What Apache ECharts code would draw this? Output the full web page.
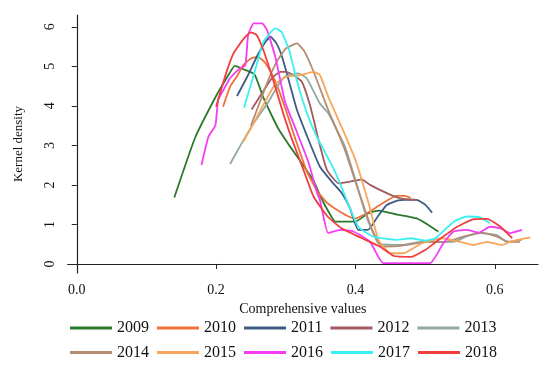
<!DOCTYPE html>
<html>
<head>
<meta charset="utf-8">
<script src="https://cdn.jsdelivr.net/npm/echarts@6/dist/echarts.min.js"></script>
<style>html,body{margin:0;padding:0;background:#fff}#c{width:550px;height:371px}</style>
</head>
<body>
<div id="c"></div>
<script>
const years = ['2009','2010','2011','2012','2013','2014','2015','2016','2017','2018'];
const colors = ['#2b7a2b','#f0703a','#3d5c84','#a35a5e','#8fa9a2','#b48c74','#f7a55a','#f53cf5','#3cf0f0','#f03e3e'];
const xTicks = [0, 0.2, 0.4, 0.6];
const yTicks = [0, 1, 2, 3, 4, 5, 6];

const d2009 = [[0.14,1.68],[0.17,3.2],[0.2,4.25],[0.215,4.7],[0.227,5.01],[0.24,4.92],[0.255,4.8],[0.268,4.2],[0.28,3.75],[0.29,3.4],[0.305,3.0],[0.321,2.6],[0.34,2.1],[0.35,1.7],[0.362,1.3],[0.371,1.07],[0.4,1.07],[0.418,1.28],[0.433,1.35],[0.46,1.25],[0.488,1.15],[0.505,0.98],[0.519,0.82]];
const d2010 = [[0.21,3.98],[0.22,4.48],[0.23,4.75],[0.239,5.03],[0.25,5.2],[0.26,5.24],[0.27,5.1],[0.28,4.8],[0.29,4.4],[0.30,3.9],[0.315,3.1],[0.33,2.35],[0.345,1.85],[0.359,1.55],[0.375,1.35],[0.39,1.2],[0.4,1.15],[0.42,1.32],[0.435,1.49],[0.459,1.72],[0.471,1.72],[0.479,1.67]];
const d2011 = [[0.23,4.25],[0.245,4.75],[0.26,5.3],[0.27,5.6],[0.278,5.75],[0.286,5.6],[0.294,5.28],[0.305,4.6],[0.316,3.9],[0.33,3.26],[0.349,2.46],[0.368,2.04],[0.38,1.8],[0.392,1.42],[0.404,0.86],[0.418,0.86],[0.432,1.2],[0.445,1.49],[0.46,1.6],[0.471,1.62],[0.488,1.62],[0.5,1.5],[0.51,1.3]];
const d2012 = [[0.251,3.91],[0.265,4.3],[0.28,4.7],[0.292,4.86],[0.3,4.86],[0.31,4.78],[0.323,4.61],[0.335,4.0],[0.347,3.14],[0.359,2.38],[0.376,2.04],[0.392,2.08],[0.409,2.14],[0.421,2.0],[0.445,1.79],[0.464,1.66],[0.488,1.62]];
const d2013 = [[0.22,2.53],[0.235,3.0],[0.254,3.56],[0.275,4.1],[0.29,4.55],[0.299,4.74],[0.318,4.82],[0.33,4.7],[0.349,4.06],[0.361,3.81],[0.373,3.4],[0.385,2.97],[0.4,2.12],[0.414,1.29],[0.425,0.8],[0.433,0.52],[0.45,0.48],[0.467,0.48],[0.493,0.56],[0.541,0.56],[0.56,0.7],[0.579,0.78],[0.603,0.73],[0.617,0.56],[0.639,0.61]];
const d2014 = [[0.25,3.5],[0.265,4.2],[0.276,4.7],[0.287,5.12],[0.3,5.45],[0.316,5.58],[0.326,5.4],[0.337,4.99],[0.349,4.45],[0.361,3.89],[0.373,3.4],[0.385,2.88],[0.404,1.87],[0.424,0.86],[0.438,0.44],[0.46,0.45],[0.5,0.55],[0.53,0.56],[0.555,0.69],[0.581,0.79],[0.603,0.69],[0.62,0.56],[0.636,0.56]];
const d2015 = [[0.239,3.09],[0.255,3.6],[0.27,4.1],[0.285,4.55],[0.301,4.74],[0.321,4.78],[0.34,4.86],[0.349,4.78],[0.361,4.23],[0.38,3.47],[0.4,2.63],[0.419,1.53],[0.433,0.61],[0.45,0.27],[0.469,0.27],[0.495,0.52],[0.524,0.65],[0.55,0.56],[0.569,0.48],[0.589,0.56],[0.61,0.48],[0.622,0.56],[0.651,0.67]];
const d2016 = [[0.179,2.5],[0.189,3.22],[0.199,3.51],[0.203,4.15],[0.212,4.45],[0.22,4.7],[0.234,4.95],[0.242,5.03],[0.246,5.79],[0.254,6.09],[0.266,6.09],[0.273,5.92],[0.285,5.24],[0.299,4.1],[0.313,3.47],[0.333,2.55],[0.345,1.79],[0.349,1.62],[0.361,0.78],[0.378,0.86],[0.397,0.82],[0.421,0.56],[0.44,0.02],[0.507,0.02],[0.526,0.52],[0.541,0.82],[0.56,0.86],[0.577,0.79],[0.593,0.94],[0.608,0.9],[0.622,0.78],[0.639,0.86]];
const d2017 = [[0.24,3.95],[0.254,4.78],[0.268,5.62],[0.285,5.96],[0.294,5.87],[0.305,5.4],[0.315,4.7],[0.325,4.1],[0.335,3.6],[0.345,3.2],[0.354,2.9],[0.366,2.5],[0.376,2.12],[0.39,1.5],[0.404,0.94],[0.426,0.69],[0.459,0.61],[0.479,0.65],[0.5,0.59],[0.515,0.65],[0.541,1.07],[0.56,1.2],[0.579,1.18],[0.593,1.03]];
const d2018 = [[0.2,3.98],[0.215,4.86],[0.225,5.33],[0.24,5.71],[0.25,5.86],[0.258,5.8],[0.268,5.4],[0.282,4.65],[0.297,3.77],[0.31,3.1],[0.325,2.4],[0.34,1.7],[0.36,1.2],[0.38,0.9],[0.407,0.67],[0.435,0.44],[0.455,0.2],[0.48,0.18],[0.5,0.35],[0.515,0.55],[0.546,0.94],[0.569,1.13],[0.589,1.14],[0.608,0.94],[0.625,0.65]];

const allData = [d2009,d2010,d2011,d2012,d2013,d2014,d2015,d2016,d2017,d2018];
const FONT = "'Liberation Serif','Times New Roman',serif";

const series = years.map((y, i) => ({
  name: y, type: 'line', data: allData[i], showSymbol: false, symbol: 'none',
  smooth: 0.15, lineStyle: { color: colors[i], width: 1.8 }, itemStyle: { color: colors[i] },
  animation: false
}));

const legendBase = {
  icon: 'rect', itemWidth: 42, itemHeight: 3, itemGap: 8, padding: 0, left: 70,
  textStyle: { fontFamily: FONT, fontSize: 16, color: '#111', lineHeight: 16, padding: [0,0,0,0] }
};

const chart = echarts.init(document.getElementById('c'), null, { renderer: 'canvas' });
chart.setOption({
  backgroundColor: '#fff',
  animation: false,
  grid: { left: 67.7, right: 12, top: 15, bottom: 98 },
  legend: [
    Object.assign({}, legendBase, { top: 320, data: years.slice(0, 5) }),
    Object.assign({}, legendBase, { top: 344.5, data: years.slice(5) })
  ],
  xAxis: {
    type: 'value', min: -0.013, max: 0.662,
    name: 'Comprehensive values', nameLocation: 'middle', nameGap: 27,
    nameTextStyle: { fontFamily: FONT, fontSize: 14, color: '#111' },
    axisLine: { show: true, lineStyle: { color: '#222', width: 1.2 } },
    axisTick: { show: true, customValues: xTicks, length: 5, lineStyle: { color: '#222' } },
    axisLabel: { customValues: xTicks, margin: 10, fontFamily: FONT, fontSize: 14, color: '#111',
      formatter: v => v.toFixed(1) },
    splitLine: { show: false }
  },
  yAxis: {
    type: 'value', min: -0.23, max: 6.3,
    name: 'Kernel density', nameLocation: 'middle', nameGap: 43, nameRotate: 90,
    nameTextStyle: { fontFamily: FONT, fontSize: 13, color: '#111' },
    axisLine: { show: true, lineStyle: { color: '#222', width: 1.2 } },
    axisTick: { show: true, customValues: yTicks, length: 5, lineStyle: { color: '#222' } },
    axisLabel: { customValues: yTicks, margin: 10, rotate: 90, fontFamily: FONT, fontSize: 14, color: '#111',
      formatter: v => String(Math.round(v)) },
    splitLine: { show: false }
  },
  series: series
});
</script>
</body>
</html>
